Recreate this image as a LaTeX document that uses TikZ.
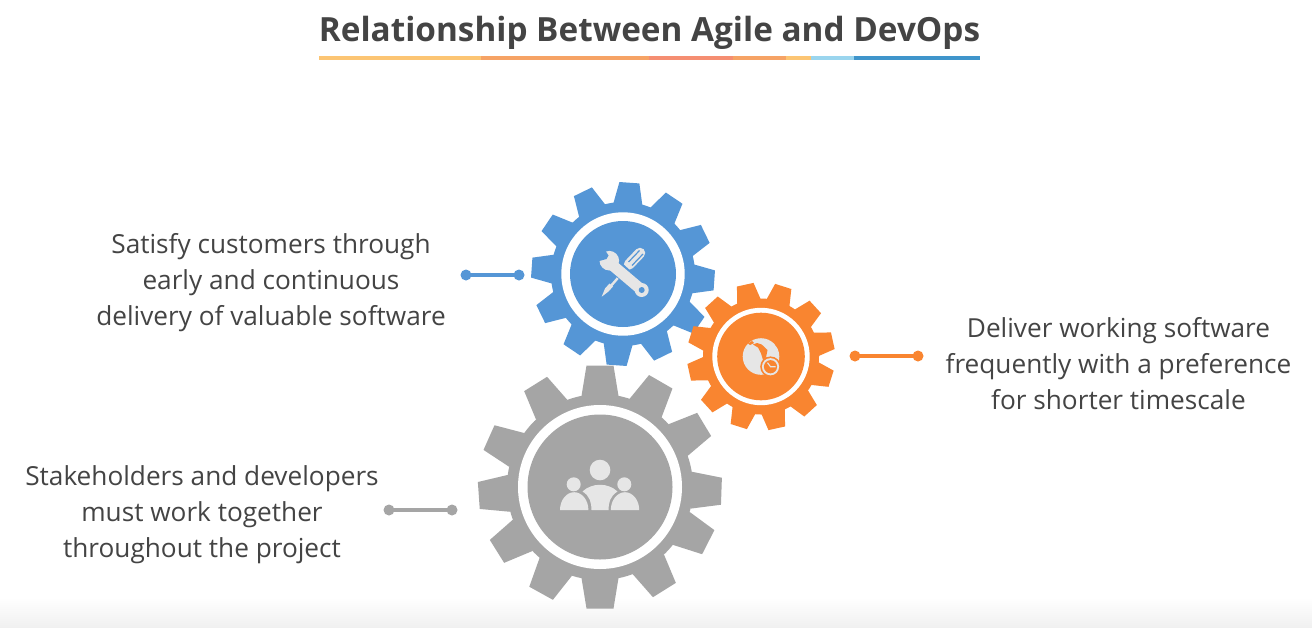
\documentclass[tikz,border=0pt]{standalone}
\usepackage{fontspec}
\setmainfont{Open Sans}
\definecolor{gblue}{HTML}{5596D6}
\definecolor{gorange}{HTML}{F98530}
\definecolor{ggray}{HTML}{A5A5A5}
\definecolor{iconc}{HTML}{E6E6E6}
\definecolor{txt}{HTML}{444444}
\definecolor{floorc}{HTML}{F0F0F0}
\definecolor{barA}{HTML}{FCC573}
\definecolor{barB}{HTML}{F6A365}
\definecolor{barC}{HTML}{F58E72}
\definecolor{barD}{HTML}{9AD5EE}
\definecolor{barE}{HTML}{3F95CB}
\tikzset{
  bodytext/.style={font=\fontsize{26.2}{36}\selectfont,text=txt,align=center,inner sep=0pt},
  titletext/.style={font=\fontsize{33.3}{40}\selectfont\bfseries,text=txt,inner sep=0pt},
  tipdot/.style={circle,inner sep=0pt,outer sep=0pt,minimum size=11pt,fill=#1},
  linkline/.style={line width=3.8pt,draw=#1},
  barseg/.style={line width=3.4pt,draw=#1},
}
% #1 centre x, #2 centre y, #3 colour, #4 outer R, #5 root r, #6 tip half, #7 base half, #8 ring out, #9 ring in
\newcommand{\gearbody}[9]{%
  \fill[#3] (#1,#2) circle[radius=#5];
  \foreach \a in \teethangles {
    \begin{scope}[shift={(#1,#2)},rotate=-\a]
      \fill[#3] (-#7,-#5+2) -- (-#6,-#4) -- (#6,-#4) -- (#7,-#5+2) -- cycle;
    \end{scope}
  }
  \fill[white] (#1,#2) circle[radius=#8];
  \fill[#3] (#1,#2) circle[radius=#9];
}
\begin{document}
\begin{tikzpicture}[x=1pt,y=-1pt]
\useasboundingbox (0,0) rectangle (1312,627);
\fill[white] (0,0) rectangle (1312,627);
\shade[top color=white,bottom color=floorc] (0,598) rectangle (1312,627);
% title
\node[titletext] (title) at (649.5,33) {Relationship Between Agile and DevOps};
\coordinate (b0) at (319,58);\coordinate (b1) at (481,58);\coordinate (b2) at (649,58);
\coordinate (b3) at (733,58);\coordinate (b4) at (786,58);\coordinate (b5) at (811,58);
\coordinate (b6) at (854,58);\coordinate (b7) at (980,58);
\draw[barseg=barA] (b0) -- (b1);
\draw[barseg=barB] (b1) -- (b2);
\draw[barseg=barC] (b2) -- (b3);
\draw[barseg=barB] (b3) -- (b4);
\draw[barseg=barA] (b4) -- (b5);
\draw[barseg=barD] (b5) -- (b6);
\draw[barseg=barE] (b6) -- (b7);
% gears
\def\teethangles{0,30,59,92,117,148,180,209,238,266,294,328}
\gearbody{600}{487}{ggray}{121.5}{93}{13.5}{18.5}{82}{72.5}
\def\teethangles{4,34,64,94,124,154,184,214,244,274,304,334}
\gearbody{623}{274}{gblue}{91.5}{72}{10}{14.5}{61.7}{53}
\def\teethangles{-12.4,17.6,47.6,77.6,107.6,137.6,167.6,197.6,227.6,257.6,287.6,317.6}
\gearbody{761}{356.5}{gorange}{73.5}{58}{8.5}{12}{48.7}{43.8}
% tools icon
\fill[iconc] (601.7,296.7) -- (605,288.5) -- (609.5,283.5) -- (613,286.5) -- (608.5,291.5) -- cycle;
\draw[iconc,line width=2.4pt] (610,287) -- (630,264);
\draw[iconc,line width=10.5pt,line cap=round] (629,264.5) -- (640,253);
\draw[gblue,line width=1.2pt] (632,265.5) -- (643,254);
\draw[gblue,line width=1.2pt] (628.5,262) -- (639.5,250.5);
\draw[gblue,line width=14pt] (616,267) -- (636,285);
\draw[iconc,line width=11pt,line cap=round] (611,264) -- (641.7,290);
\fill[iconc] (641.7,290) circle[radius=7];
\fill[iconc] (609.3,260.7) circle[radius=9.8];
\fill[gblue] (604,246) -- (605.5,251) -- (608.5,255.5) -- (606.5,259) -- (601,260.5) -- (595,262) -- (594,246) -- cycle;
\fill[gblue] (641.7,290) circle[radius=3];
% globe icon
\fill[iconc] (761,356.5) circle[radius=18.3];
\fill[gorange] (761.7,344.5) -- (767.5,350) -- (766,357.5) -- (763,360) -- (761,353.3) -- (758,347.5) -- (753,344.5) -- (757,343) -- cycle;
\fill[gorange] (775,339) -- (782,347) -- (781,351) -- (775,345) -- cycle;
\fill[gorange] (748,343.5) -- (752,341) -- (754,343) -- (750,345) -- cycle;
\fill[gorange] (770.5,366.7) circle[radius=10.3];
\fill[iconc] (770.5,366.7) circle[radius=8.6];
\fill[gorange] (770.5,366.7) circle[radius=6.6];
\draw[iconc,line width=1.1pt] (767.5,362.7) -- (770.5,366.7) -- (775.5,366.7);
% people icon
\fill[iconc] (600,470) circle[radius=10.3];
\fill[iconc] (573.7,484.3) circle[radius=7];
\fill[iconc] (624.3,484.3) circle[radius=7];
\fill[iconc] (560,510) arc[start angle=180,end angle=360,x radius=14.2,y radius=17.8] -- cycle;
\fill[iconc] (610.8,510) arc[start angle=180,end angle=360,x radius=14.2,y radius=17.8] -- cycle;
\fill[iconc] (582.5,491.5) .. controls (592,482.5) and (608,482.5) .. (617.5,491.5) .. controls (610,496) and (608.5,503) .. (608.5,510) -- (591.5,510) .. controls (591.5,503) and (590,496) .. (582.5,491.5) -- cycle;
% leaders
\node[tipdot=gblue] (ba) at (466,275) {};
\node[tipdot=gblue] (bb) at (519,275) {};
\draw[linkline=gblue] (ba.center) -- (bb.center);
\node[tipdot=gorange] (oa) at (855,356) {};
\node[tipdot=gorange] (ob) at (918,356) {};
\draw[linkline=gorange] (oa.center) -- (ob.center);
\node[tipdot=ggray] (ga) at (389,510) {};
\node[tipdot=ggray] (gb) at (452,510) {};
\draw[linkline=ggray] (ga.center) -- (gb.center);
% labels
\node[bodytext] (l1) at (271,283) {Satisfy customers through\\early and continuous\\delivery of valuable software};
\node[bodytext] (l2) at (1118.5,364) {Deliver working software\\frequently with a preference\\for shorter timescale};
\node[bodytext] (l3) at (202,515) {Stakeholders and developers\\must work together\\throughout the project};
\end{tikzpicture}
\end{document}
